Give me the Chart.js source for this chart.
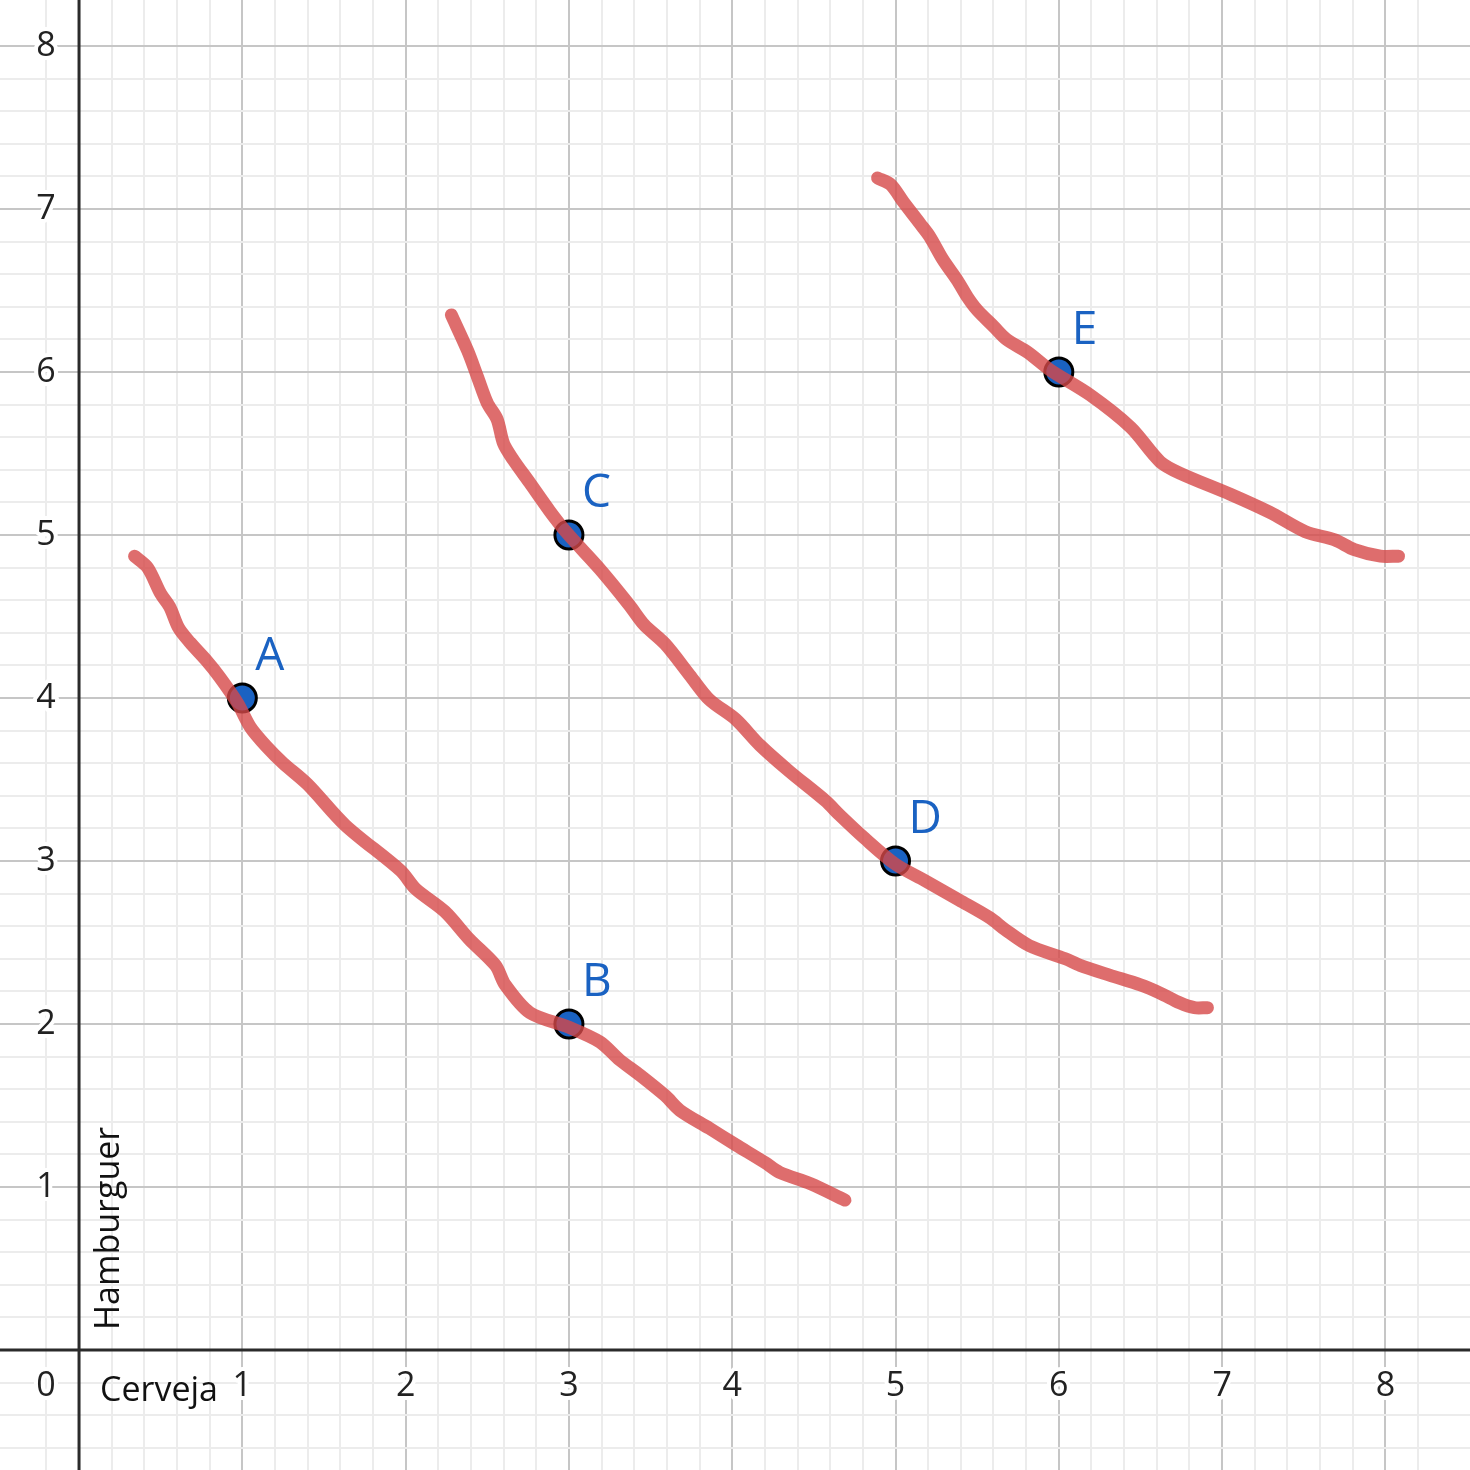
<!DOCTYPE html>
<html>
<head>
<meta charset="utf-8">
<script src="https://cdn.jsdelivr.net/npm/chart.js@4/dist/chart.umd.min.js"></script>
<style>
  html, body { margin: 0; padding: 0; background: #fff; }
  #wrap { width: 1470px; height: 1470px; }
</style>
</head>
<body>
<div id="wrap"><canvas id="myChart" width="1470" height="1470"></canvas></div>
<script>
// tick labels
var xTicks = [1, 2, 3, 4, 5, 6, 7, 8]
var yTicks = [1, 2, 3, 4, 5, 6, 7, 8]

// axis titles
var xTitle = "Cerveja"
var yTitle = "Hamburguer"

// curve through A and B
var curve1X = [0.34, 0.42, 0.50, 0.555, 0.61, 0.68, 0.78, 0.86, 0.97, 1.05, 1.15, 1.25, 1.40, 1.63, 1.97, 2.06, 2.24, 2.39, 2.55, 2.61, 2.76, 3.00, 3.19, 3.31, 3.43, 3.59, 3.68, 3.86, 4.02, 4.20, 4.29, 4.48, 4.69]
var curve1Y = [4.87, 4.80, 4.64, 4.56, 4.43, 4.34, 4.23, 4.13, 3.97, 3.82, 3.70, 3.60, 3.47, 3.22, 2.94, 2.83, 2.69, 2.52, 2.36, 2.24, 2.07, 1.98, 1.89, 1.78, 1.69, 1.56, 1.47, 1.36, 1.26, 1.15, 1.09, 1.02, 0.92]

// curve through C and D
var curve2X = [2.28, 2.38, 2.44, 2.50, 2.56, 2.60, 2.66, 2.76, 2.88, 2.99, 3.19, 3.37, 3.46, 3.59, 3.74, 3.86, 4.02, 4.17, 4.35, 4.57, 4.66, 4.81, 5.00, 5.18, 5.39, 5.58, 5.67, 5.82, 6.04, 6.13, 6.31, 6.50, 6.62, 6.74, 6.83, 6.91]
var curve2Y = [6.35, 6.13, 5.97, 5.81, 5.71, 5.56, 5.46, 5.32, 5.15, 5.01, 4.79, 4.57, 4.45, 4.33, 4.14, 3.99, 3.87, 3.71, 3.55, 3.37, 3.28, 3.14, 2.98, 2.88, 2.76, 2.65, 2.58, 2.48, 2.40, 2.36, 2.30, 2.24, 2.19, 2.13, 2.10, 2.10]

// curve through E
var curve3X = [4.89, 4.97, 5.05, 5.15, 5.21, 5.29, 5.38, 5.44, 5.50, 5.60, 5.68, 5.81, 5.95, 6.19, 6.44, 6.62, 6.74, 7.05, 7.29, 7.51, 7.69, 7.81, 7.97, 8.08]
var curve3Y = [7.19, 7.15, 7.04, 6.91, 6.83, 6.69, 6.56, 6.46, 6.38, 6.28, 6.20, 6.12, 6.01, 5.86, 5.66, 5.45, 5.38, 5.25, 5.14, 5.02, 4.97, 4.91, 4.87, 4.87]

// marked points
var pointLabels = ["A", "B", "C", "D", "E"]
var pointX = [1, 3, 3, 5, 6]
var pointY = [4, 2, 5, 3, 6]

function toXY(xs, ys) {
  var res = []
  for (var i = 0; i < xs.length; i++) {
    res.push({ x: xs[i], y: ys[i] })
  }
  return res
}

function gridColor(ctx) {
  var v = ctx.tick.value
  if (Math.abs(v - Math.round(v)) < 1e-6) return "#c6c6c6"
  var m = v / 0.2
  if (Math.abs(m - Math.round(m)) < 1e-6) return "#ececec"
  return "rgba(0,0,0,0)"
}

function curveSet(xs, ys) {
  return {
    type: "line",
    data: toXY(xs, ys),
    borderColor: "rgba(214, 72, 72, 0.8)",
    borderWidth: 13,
    borderCapStyle: "round",
    borderJoinStyle: "round",
    pointRadius: 0,
    tension: 0.3,
    fill: false,
    order: 0
  }
}

// axes, tick labels and titles, drawn under the data
var axisPlugin = {
  id: "axisPlugin",
  beforeDatasetsDraw: function(chart) {
    var c = chart.ctx
    var xs = chart.scales.x
    var ys = chart.scales.y
    var x0 = xs.getPixelForValue(0)
    var y0 = ys.getPixelForValue(0)
    c.save()
    c.strokeStyle = "#2b2b2b"
    c.lineWidth = 3
    c.beginPath()
    c.moveTo(chart.chartArea.left, y0)
    c.lineTo(chart.chartArea.right, y0)
    c.moveTo(x0, chart.chartArea.top)
    c.lineTo(x0, chart.chartArea.bottom)
    c.stroke()

    c.font = "34px 'Open Sans'"
    c.fillStyle = "#222"
    c.strokeStyle = "#fff"
    c.lineWidth = 8
    c.lineJoin = "round"
    c.textAlign = "center"
    c.textBaseline = "middle"
    for (var i = 0; i < xTicks.length; i++) {
      var px = xs.getPixelForValue(xTicks[i])
      c.strokeText(String(xTicks[i]), px, y0 + 36)
      c.fillText(String(xTicks[i]), px, y0 + 36)
    }
    c.strokeText("0", x0 - 33, y0 + 36)
    c.fillText("0", x0 - 33, y0 + 36)
    for (var j = 0; j < yTicks.length; j++) {
      var py = ys.getPixelForValue(yTicks[j])
      c.strokeText(String(yTicks[j]), x0 - 33, py)
      c.fillText(String(yTicks[j]), x0 - 33, py)
    }

    c.font = "34px 'Open Sans'"
    c.fillStyle = "#111"
    c.textAlign = "left"
    c.textBaseline = "alphabetic"
    c.fillText(xTitle, x0 + 21, y0 + 51)
    c.translate(x0 + 40, y0 - 20)
    c.rotate(-Math.PI / 2)
    c.fillText(yTitle, 0, 0)
    c.restore()
  },
  afterDatasetsDraw: function(chart) {
    var c = chart.ctx
    c.save()
    c.font = "46px 'Open Sans'"
    c.fillStyle = "#1a62c2"
    c.textAlign = "left"
    c.textBaseline = "alphabetic"
    for (var i = 0; i < pointLabels.length; i++) {
      var px = chart.scales.x.getPixelForValue(pointX[i])
      var py = chart.scales.y.getPixelForValue(pointY[i])
      c.fillText(pointLabels[i], px + 13, py - 28)
    }
    c.restore()
  }
}

function writeChart() {
  var ctx = document.getElementById("myChart")
  var myChart = new Chart(ctx, {
    type: "scatter",
    data: {
      datasets: [
        curveSet(curve1X, curve1Y),
        curveSet(curve2X, curve2Y),
        curveSet(curve3X, curve3Y),
        {
          type: "scatter",
          data: toXY(pointX, pointY),
          backgroundColor: "#1a62c2",
          borderColor: "#000",
          borderWidth: 3,
          pointRadius: 14,
          order: 1
        }
      ]
    },
    options: {
      responsive: false,
      animation: false,
      layout: { padding: 0, autoPadding: false },
      plugins: {
        legend: { display: false },
        tooltip: { enabled: false }
      },
      scales: {
        x: {
          type: "linear",
          min: -0.484,
          max: 8.518,
          ticks: { display: false, stepSize: 0.2, maxTicksLimit: 1000 },
          grid: { color: gridColor, lineWidth: 2, drawTicks: false },
          border: { display: false }
        },
        y: {
          type: "linear",
          min: -0.736,
          max: 8.282,
          ticks: { display: false, stepSize: 0.2, maxTicksLimit: 1000 },
          grid: { color: gridColor, lineWidth: 2, drawTicks: false },
          border: { display: false }
        }
      }
    },
    plugins: [axisPlugin]
  })
}

writeChart()
</script>
</body>
</html>
